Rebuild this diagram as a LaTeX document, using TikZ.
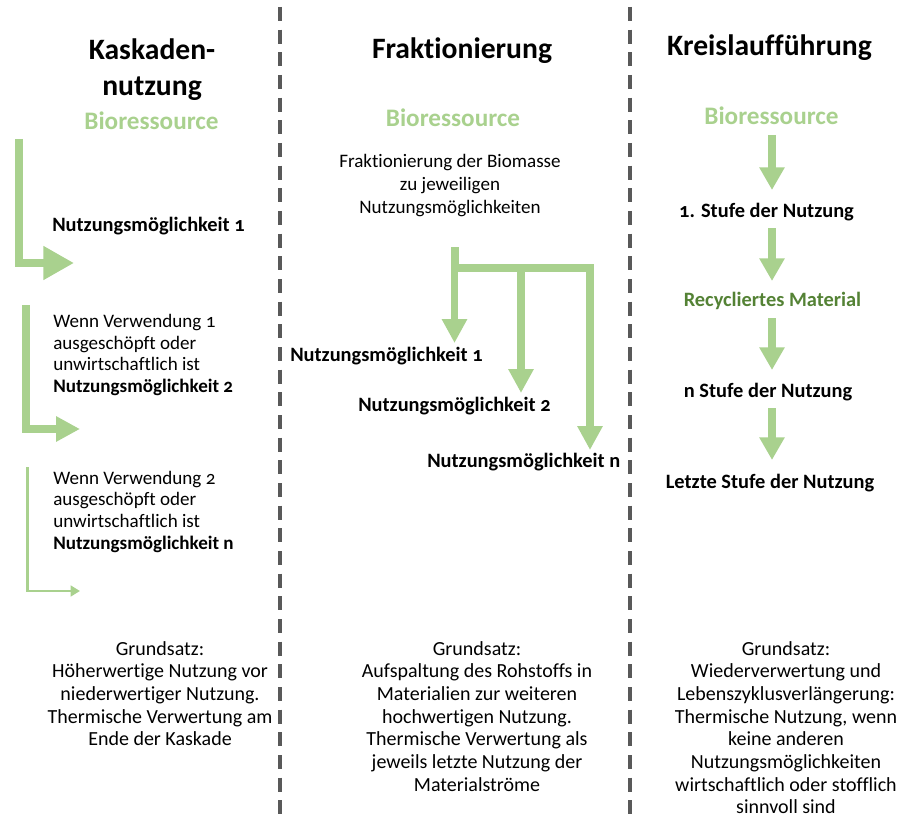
\documentclass[tikz,border=0pt]{standalone}
\usepackage{fontspec}
\setmainfont{Carlito}[Numbers=OldStyle,Ligatures=NoCommon]
\usetikzlibrary{arrows.meta}
\definecolor{lgreen}{HTML}{A9D18E}
\definecolor{dgreen}{HTML}{548235}
\definecolor{divgray}{HTML}{595959}
\tikzset{
  px/.style={x=0.75pt,y=-0.75pt},
  title/.style={font=\fontsize{22.2pt}{27pt}\selectfont\bfseries,align=center,inner sep=0pt},
  bio/.style={font=\fontsize{18.9pt}{22pt}\selectfont\bfseries,text=lgreen,inner sep=0pt},
  lbl/.style={font=\fontsize{15.3pt}{18pt}\selectfont\bfseries,inner sep=0pt},
  body/.style={font=\fontsize{14.3pt}{16.3pt}\selectfont,align=left,inner sep=0pt},
  mid/.style={font=\fontsize{14.3pt}{17.25pt}\selectfont,align=center,inner sep=0pt},
  gs/.style={font=\fontsize{15pt}{17pt}\selectfont,align=center,inner sep=0pt,anchor=north},
  divider/.style={draw=divgray,line width=3pt,dash pattern=on 10.5pt off 6.5pt},
  bigarrow/.style={draw=lgreen,line width=6pt,line join=miter,-{Triangle[width=24pt,length=23pt]}},
  midarrow/.style={draw=lgreen,line width=5.5pt,line join=miter,-{Triangle[width=18pt,length=18pt]}},
  thinarrow/.style={draw=lgreen,line width=2.2pt,line join=miter,-{Triangle[width=8pt,length=7pt]}},
  flowarrow/.style={draw=lgreen,line width=6pt,-{Triangle[width=18pt,length=17pt]}},
}
\begin{document}
\begin{tikzpicture}[px]
\useasboundingbox (0,0) rectangle (903,820);
% dividers
\coordinate (d1t) at (279.5,7);
\coordinate (d1b) at (279.5,820);
\coordinate (d2t) at (630,7);
\coordinate (d2b) at (630,820);
\draw[divider] (d1t) -- (d1b);
\draw[divider] (d2t) -- (d2b);

% titles
\node[title] (t1) at (152,70) {Kaskaden-\\nutzung};
\node[title] (t2) at (462,51) {Fraktionierung};
\node[title] (t3) at (769.5,48) {Kreislaufführung};

\node[bio] (b1) at (151.5,121) {Bioressource};
\node[bio] (b2) at (453,118) {Bioressource};
\node[bio] (b3) at (771.5,116) {Bioressource};

% left column
\node[lbl,anchor=west] (l1) at (52,226) {Nutzungsmöglichkeit 1};
\node[body,anchor=north west] (l2) at (53,314) {Wenn Verwendung 1\\ausgeschöpft oder\\unwirtschaftlich ist\\\textbf{Nutzungsmöglichkeit 2}};
\node[body,anchor=north west] (l3) at (53,470.5) {Wenn Verwendung 2\\ausgeschöpft oder\\unwirtschaftlich ist\\\textbf{Nutzungsmöglichkeit n}};

\coordinate (a1s) at (19,139);
\coordinate (a1e) at (74,263);
\draw[bigarrow] (a1s) |- (a1e);
\coordinate (a2s) at (26,305);
\coordinate (a2e) at (80,429);
\draw[midarrow] (a2s) |- (a2e);
\coordinate (a3s) at (27.5,467);
\coordinate (a3e) at (80,591);
\draw[thinarrow] (a3s) |- (a3e);

% middle column
\node[mid,anchor=north] (m0) at (450,154) {Fraktionierung der Biomasse\\zu jeweiligen\\Nutzungsmöglichkeiten};
\node[lbl,anchor=west] (m1) at (290,356) {Nutzungsmöglichkeit 1};
\node[lbl,anchor=west] (m2) at (358,406) {Nutzungsmöglichkeit 2};
\node[lbl,anchor=west] (m3) at (427,462) {Nutzungsmöglichkeit n};

\coordinate (ms) at (454.5,247);
\coordinate (mj) at (454.5,268);
\coordinate (mj2) at (521,268);
\coordinate (mj3) at (590,268);
\draw[draw=lgreen,line width=6pt,line join=miter] (ms) -- (mj) -- (mj3) -- ++(0,3);
\draw[midarrow] (mj) -- (454.5,343);
\draw[midarrow] (mj2) -- (521,393);
\draw[midarrow] (mj3) -- (590,450);

% right column
\node[lbl] (r1) at (766.5,212) {1. Stufe der Nutzung};
\node[lbl,text=dgreen] (r2) at (772.5,301) {Recycliertes Material};
\node[lbl] (r3) at (768,392) {n Stufe der Nutzung};
\node[lbl] (r4) at (770,483) {Letzte Stufe der Nutzung};
\coordinate (f1s) at (772,135);
\coordinate (f1e) at (772,190);
\coordinate (f2s) at (772,228);
\coordinate (f2e) at (772,281);
\coordinate (f3s) at (772,318);
\coordinate (f3e) at (772,370);
\coordinate (f4s) at (772,408);
\coordinate (f4e) at (772,460);
\draw[flowarrow] (f1s) -- (f1e);
\draw[flowarrow] (f2s) -- (f2e);
\draw[flowarrow] (f3s) -- (f3e);
\draw[flowarrow] (f4s) -- (f4e);

% bottom principles
\node[gs] (g1) at (160,641) {Grundsatz:\\Höherwertige Nutzung vor\\niederwertiger Nutzung.\\Thermische Verwertung am\\Ende der Kaskade};
\node[gs] (g2) at (477,641) {Grundsatz:\\Aufspaltung des Rohstoffs in\\Materialien zur weiteren\\hochwertigen Nutzung.\\Thermische Verwertung als\\jeweils letzte Nutzung der\\Materialströme};
\node[gs] (g3) at (786,641) {Grundsatz:\\Wiederverwertung und\\Lebenszyklusverlängerung:\\Thermische Nutzung, wenn\\keine anderen\\Nutzungsmöglichkeiten\\wirtschaftlich oder stofflich\\sinnvoll sind};
\end{tikzpicture}
\end{document}
